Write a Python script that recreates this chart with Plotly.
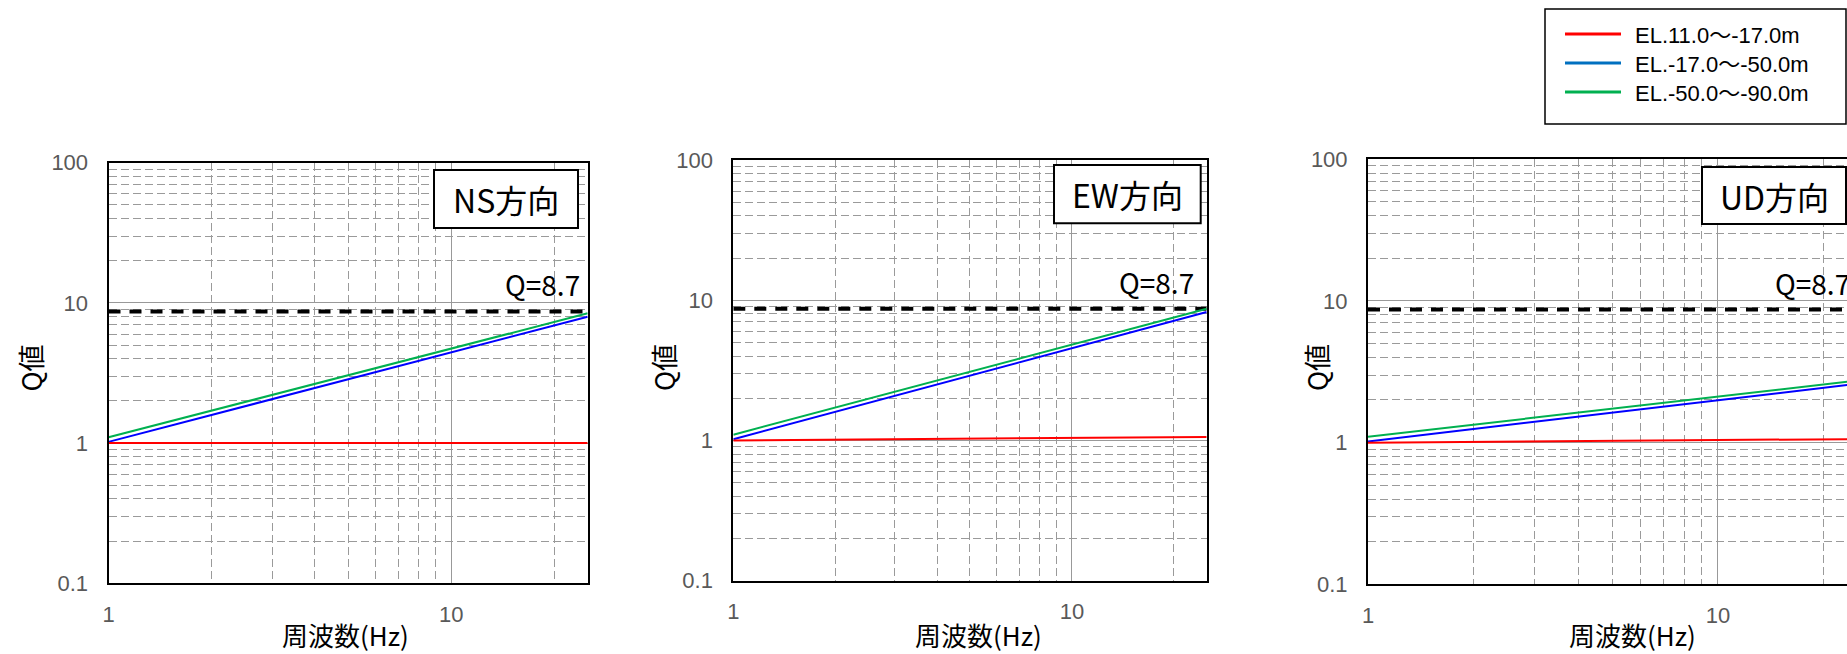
import math
import plotly.graph_objects as go

# ---------------- data ----------------
freq = [1, 10, 25]                      # Hz
ns_red = [1.0, 1.0, 1.0]
ns_blue = [1.02, 4.45, 7.97]
ns_green = [1.10, 4.72, 8.43]
ew_red = [1.0, 1.04, 1.06]
ew_blue = [1.02, 4.55, 8.24]
ew_green = [1.10, 4.85, 8.70]
ud_red = [1.0, 1.04, 1.06]
ud_blue = [1.02, 2.00, 2.60]
ud_green = [1.10, 2.11, 2.74]
q_ref = 8.7

panel_titles = ["NS方向", "EW方向", "UD方向"]
series_names = ["EL.11.0～-17.0m", "EL.-17.0～-50.0m", "EL.-50.0～-90.0m"]
line_colors = ["#FF0000", "#0000FF", "#00B050"]
legend_colors = ["#FF0000", "#0070C0", "#00B050"]
x_tickvals = [1, 10]
x_ticktext = ["1", "10"]
y_tickvals = [0.1, 1, 10, 100]
y_ticktext = ["0.1", "1", "10", "100"]
x_minor = [2, 3, 4, 5, 6, 7, 8, 9, 20]
y_minor = [0.2, 0.3, 0.4, 0.5, 0.6, 0.7, 0.8, 0.9,
           2, 3, 4, 5, 6, 7, 8, 9,
           20, 30, 40, 50, 60, 70, 80, 90]
x_title = "周波数(Hz)"
y_title = "Q値"

panel_data = [
    (ns_red, ns_blue, ns_green),
    (ew_red, ew_blue, ew_green),
    (ud_red, ud_blue, ud_green),
]

# ---------------- layout geometry (pixels) ----------------
W, H = 1847, 654
def px(x):
    return x / W
def py(y):
    return 1 - y / H

panels = [
    dict(x0=108.5, x1=587.7, y0=162.7, y1=583.3, xr=[0, 1.398],
         ytitle_x=29.5, xtitle_x=345,
         box=(434, 170, 578, 228), qlab_x=582, qanchor="right"),
    dict(x0=733.3, x1=1206.7, y0=160.0, y1=580.7, xr=[0, 1.398],
         ytitle_x=663, xtitle_x=979,
         box=(1054, 165, 1200.7, 223.3), qlab_x=1196, qanchor="right"),
    dict(x0=1368, x1=1847, y0=159.3, y1=584.3, xr=[0, 1.3686],
         ytitle_x=1316, xtitle_x=1632,
         box=(1702, 167, 1846, 224), qlab_x=1773, qanchor="left"),
]

TICKFONT = dict(family="Liberation Sans Narrow, Liberation Sans, Arial, sans-serif",
                size=22, color="#595959")
CJK = "Noto Sans CJK JP, Noto Sans, sans-serif"

fig = go.Figure()
annotations = []
shapes = []

for i, (p, data) in enumerate(zip(panels, panel_data)):
    sx = "" if i == 0 else str(i + 1)
    xa, ya = "x" + sx, "y" + sx
    fig.add_trace(go.Scatter(
        x=[freq[0], freq[-1]], y=[q_ref, q_ref], mode="lines",
        line=dict(color="black", width=4, dash="12px,9px"),
        xaxis=xa, yaxis=ya, showlegend=False, hoverinfo="skip"))
    for k in (2, 1, 0):
        fig.add_trace(go.Scatter(
            x=freq, y=data[k], mode="lines",
            line=dict(color=line_colors[k], width=2),
            xaxis=xa, yaxis=ya, showlegend=False, name=series_names[k]))

    common = dict(showline=True, linecolor="black", linewidth=2, ticks="",
                  showgrid=True, gridcolor="#999999", gridwidth=1,
                  zeroline=False, tickfont=TICKFONT, automargin=False)
    xkw = dict(common, type="log", range=p["xr"],
               domain=[px(p["x0"]), px(p["x1"])],
               anchor=ya, mirror=True,
               tickmode="array", tickvals=x_tickvals, ticktext=x_ticktext,
               ticklabelstandoff=10,
               minor=dict(tickvals=x_minor, showgrid=True, gridcolor="#9a9a9a",
                          gridwidth=1, griddash="8px,4px", ticks=""))
    ykw = dict(common, type="log", range=[-1, 2],
               domain=[py(p["y1"]), py(p["y0"])],
               anchor=xa, mirror=(i < 2),
               tickmode="array", tickvals=y_tickvals, ticktext=y_ticktext,
               ticklabelstandoff=14,
               minor=dict(tickvals=y_minor, showgrid=True, gridcolor="#9a9a9a",
                          gridwidth=1, griddash="8px,4px", ticks=""))
    fig.layout["xaxis" + sx] = xkw
    fig.layout["yaxis" + sx] = ykw

    annotations.append(dict(text=y_title, xref="paper", yref="paper",
                            x=px(p["ytitle_x"]), y=py(368), textangle=-90,
                            showarrow=False, xanchor="center", yanchor="middle",
                            font=dict(family=CJK, size=27, color="black")))
    annotations.append(dict(text=x_title, xref="paper", yref="paper",
                            x=px(p["xtitle_x"]), y=py(634),
                            showarrow=False, xanchor="center", yanchor="middle",
                            font=dict(family=CJK, size=26, color="black")))
    bx0, by0, bx1, by1 = p["box"]
    shapes.append(dict(type="rect", xref="paper", yref="paper",
                       x0=px(bx0), x1=px(bx1), y0=py(by1), y1=py(by0),
                       line=dict(color="black", width=2), fillcolor="white",
                       layer="above"))
    annotations.append(dict(text=panel_titles[i], xref="paper", yref="paper",
                            x=px((bx0 + bx1) / 2), y=py((by0 + by1) / 2),
                            showarrow=False, xanchor="center", yanchor="middle",
                            font=dict(family=CJK, size=32, color="black")))
    annotations.append(dict(text="Q=" + str(q_ref), xref="paper", yref=ya,
                            x=px(p["qlab_x"]), y=math.log10(q_ref),
                            yshift=27, showarrow=False,
                            xanchor=p["qanchor"], yanchor="middle",
                            font=dict(family=CJK, size=28, color="black")))

# legend (frame, key lines and labels)
shapes.append(dict(type="rect", xref="paper", yref="paper",
                   x0=px(1545), x1=px(1846), y0=py(124), y1=py(9),
                   line=dict(color="black", width=1.5), fillcolor="white"))
legend_rows = [34, 63, 92]
for k in range(3):
    shapes.append(dict(type="line", xref="paper", yref="paper",
                       x0=px(1565), x1=px(1621),
                       y0=py(legend_rows[k]), y1=py(legend_rows[k]),
                       line=dict(color=legend_colors[k], width=3)))
    annotations.append(dict(text=series_names[k], xref="paper", yref="paper",
                            x=px(1633), y=py(legend_rows[k] + 1),
                            showarrow=False, xanchor="left", yanchor="middle",
                            font=dict(family="Liberation Sans, Arial, Noto Sans CJK JP",
                                      size=22, color="black")))

fig.update_layout(
    width=W, height=H,
    margin=dict(l=0, r=0, t=0, b=0, pad=0, autoexpand=False),
    paper_bgcolor="white", plot_bgcolor="white",
    annotations=annotations, shapes=shapes,
    showlegend=False,
)

post = (
    "document.documentElement.style.margin='0';"
    "document.body.style.margin='0';"
    "document.body.style.overflow='hidden';"
    "var gd=document.getElementById('{plot_id}');"
    "gd.style.position='fixed';gd.style.top='0px';gd.style.left='0px';"
)
fig.write_html("out.html", config={"displayModeBar": False}, post_script=post)
